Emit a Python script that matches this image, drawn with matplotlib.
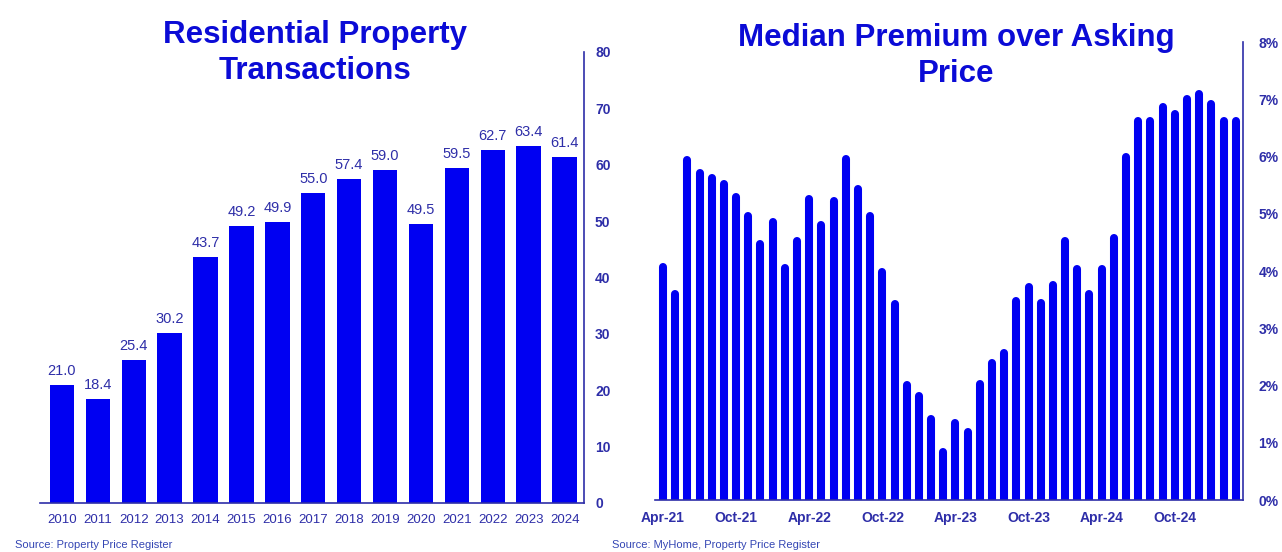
import matplotlib
matplotlib.use("Agg")
import matplotlib.pyplot as plt

plt.rcParams['font.family'] = ['Liberation Sans', 'DejaVu Sans']

# data
years = ['2010', '2011', '2012', '2013', '2014', '2015', '2016', '2017',
         '2018', '2019', '2020', '2021', '2022', '2023', '2024']
transactions = [21.0, 18.4, 25.4, 30.2, 43.7, 49.2, 49.9, 55.0,
                57.4, 59.0, 49.5, 59.5, 62.7, 63.4, 61.4]

months = ['Apr-21', 'May-21', 'Jun-21', 'Jul-21', 'Aug-21', 'Sep-21', 'Oct-21', 'Nov-21',
          'Dec-21', 'Jan-22', 'Feb-22', 'Mar-22', 'Apr-22', 'May-22', 'Jun-22', 'Jul-22',
          'Aug-22', 'Sep-22', 'Oct-22', 'Nov-22', 'Dec-22', 'Jan-23', 'Feb-23', 'Mar-23',
          'Apr-23', 'May-23', 'Jun-23', 'Jul-23', 'Aug-23', 'Sep-23', 'Oct-23', 'Nov-23',
          'Dec-23', 'Jan-24', 'Feb-24', 'Mar-24', 'Apr-24', 'May-24', 'Jun-24', 'Jul-24',
          'Aug-24', 'Sep-24', 'Oct-24', 'Nov-24', 'Dec-24', 'Jan-25', 'Feb-25', 'Mar-25']
premium = [4.14, 3.66, 6.01, 5.78, 5.69, 5.59, 5.37, 5.03,
           4.54, 4.92, 4.13, 4.59, 5.33, 4.88, 5.30, 6.03,
           5.51, 5.03, 4.06, 3.50, 2.08, 1.88, 1.48, 0.90,
           1.42, 1.25, 2.09, 2.47, 2.63, 3.54, 3.79, 3.51,
           3.83, 4.60, 4.11, 3.66, 4.11, 4.65, 6.07, 6.69,
           6.69, 6.94, 6.81, 7.07, 7.16, 6.98, 6.69, 6.69]

BAR = '#0000f2'
TITLE = '#0b0bd6'
AXIS = '#2e2ea8'
SRC = '#3446b4'

fig = plt.figure(figsize=(12.82, 5.52), dpi=100)

# ---- left: transactions
ax1 = fig.add_axes([0.0312, 0.0888, 0.4243, 0.817])
x1 = range(len(years))
ax1.bar(x1, transactions, width=0.68, color=BAR, zorder=2)
for i, v in enumerate(transactions):
    ax1.annotate('%.1f' % v, (i, v), xytext=(0, 5), textcoords='offset points',
                 ha='center', va='bottom', fontsize=10.5, color=AXIS)
ax1.set_xlim(-0.61, 14.54)
ax1.set_ylim(0, 80)
ax1.set_yticks(range(0, 81, 10))
ax1.set_xticks(list(x1))
ax1.set_xticklabels(years)
ax1.yaxis.tick_right()
for s in ['top', 'left']:
    ax1.spines[s].set_visible(False)
for s in ['bottom', 'right']:
    ax1.spines[s].set_color(AXIS)
    ax1.spines[s].set_linewidth(1.2)
ax1.tick_params(axis='x', length=0, pad=8, labelsize=9.5, labelcolor=AXIS)
ax1.tick_params(axis='y', length=0, pad=8, labelsize=10, labelcolor=AXIS)
for t in ax1.get_yticklabels():
    t.set_fontweight('bold')

fig.text(0.246, 1 - 20 / 552, 'Residential Property\nTransactions', ha='center', va='top',
         fontsize=22.5, fontweight='bold', color=TITLE, linespacing=1.27)
fig.text(15 / 1282, 1 - 545 / 552, 'Source: Property Price Register', ha='left', va='center',
         fontsize=8, color=SRC)

# ---- right: premium over asking
ax2 = fig.add_axes([0.5109, 0.0942, 0.4587, 0.8297])
x2 = range(len(months))
cap = 0.07
ax2.vlines(list(x2), 0, [v - cap for v in premium], colors=BAR, linewidth=5.8,
           capstyle='round', zorder=2)
ax2.set_xlim(-0.66, 47.6)
ax2.set_ylim(0, 8)
ax2.set_yticks(range(0, 9))
ax2.set_yticklabels(['%d%%' % i for i in range(0, 9)])
ax2.set_xticks(list(x2)[::6])
ax2.set_xticklabels(months[::6])
ax2.yaxis.tick_right()
for s in ['top', 'left']:
    ax2.spines[s].set_visible(False)
for s in ['bottom', 'right']:
    ax2.spines[s].set_color(AXIS)
    ax2.spines[s].set_linewidth(1.2)
ax2.tick_params(axis='x', length=0, pad=8, labelsize=10, labelcolor=AXIS)
ax2.tick_params(axis='y', length=0, pad=11, labelsize=10, labelcolor=AXIS)
for t in ax2.get_xticklabels() + ax2.get_yticklabels():
    t.set_fontweight('bold')

fig.text(0.7457, 1 - 23 / 552, 'Median Premium over Asking\nPrice', ha='center', va='top',
         fontsize=22.5, fontweight='bold', color=TITLE, linespacing=1.27)
fig.text(612 / 1282, 1 - 545 / 552, 'Source: MyHome, Property Price Register', ha='left',
         va='center', fontsize=8, color=SRC)

fig.savefig('out.png', dpi=100)
